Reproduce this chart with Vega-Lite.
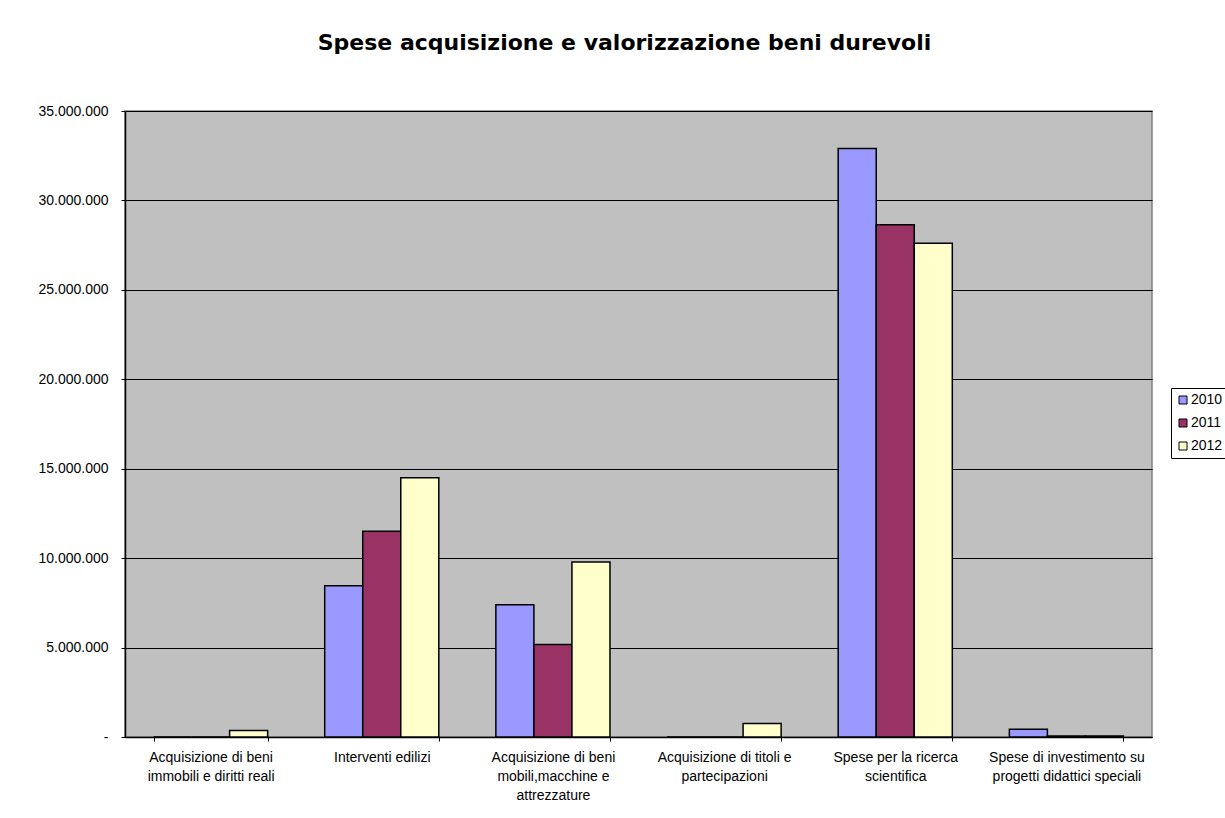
{
  "$schema": "https://vega.github.io/schema/vega-lite/v6.json",
  "width": 1027,
  "height": 626,
  "autosize": {"type": "none"},
  "padding": {"left": 125, "top": 111, "right": 73, "bottom": 81},
  "background": "white",
  "title": {
    "text": "Spese acquisizione e valorizzazione beni durevoli",
    "font": "DejaVu Sans",
    "fontSize": 22,
    "fontWeight": "bold",
    "color": "black",
    "anchor": "middle",
    "dx": -14,
    "offset": 49
  },
  "data": {
    "values": [
      {"categoria": "Acquisizione di beni immobili e diritti reali", "anno": "2010", "importo": 0},
      {"categoria": "Acquisizione di beni immobili e diritti reali", "anno": "2011", "importo": 0},
      {"categoria": "Acquisizione di beni immobili e diritti reali", "anno": "2012", "importo": 370000},
      {"categoria": "Interventi edilizi", "anno": "2010", "importo": 8450000},
      {"categoria": "Interventi edilizi", "anno": "2011", "importo": 11510000},
      {"categoria": "Interventi edilizi", "anno": "2012", "importo": 14500000},
      {"categoria": "Acquisizione di beni mobili,macchine e attrezzature", "anno": "2010", "importo": 7390000},
      {"categoria": "Acquisizione di beni mobili,macchine e attrezzature", "anno": "2011", "importo": 5170000},
      {"categoria": "Acquisizione di beni mobili,macchine e attrezzature", "anno": "2012", "importo": 9790000},
      {"categoria": "Acquisizione di titoli e partecipazioni", "anno": "2010", "importo": 0},
      {"categoria": "Acquisizione di titoli e partecipazioni", "anno": "2011", "importo": 0},
      {"categoria": "Acquisizione di titoli e partecipazioni", "anno": "2012", "importo": 750000},
      {"categoria": "Spese per la ricerca scientifica", "anno": "2010", "importo": 32900000},
      {"categoria": "Spese per la ricerca scientifica", "anno": "2011", "importo": 28640000},
      {"categoria": "Spese per la ricerca scientifica", "anno": "2012", "importo": 27600000},
      {"categoria": "Spese di investimento su progetti didattici speciali", "anno": "2010", "importo": 430000},
      {"categoria": "Spese di investimento su progetti didattici speciali", "anno": "2011", "importo": 60000},
      {"categoria": "Spese di investimento su progetti didattici speciali", "anno": "2012", "importo": 50000}
    ]
  },
  "mark": {"type": "bar", "stroke": "black", "strokeWidth": 1.5},
  "encoding": {
    "x": {
      "field": "categoria",
      "type": "nominal",
      "sort": null,
      "title": null,
      "scale": {"paddingInner": 0.3333, "paddingOuter": 0.1667},
      "axis": {
        "labelAngle": 0,
        "labelFont": "Liberation Sans",
        "labelFontSize": 14,
        "labelColor": "black",
        "labelLineHeight": 19,
        "labelPadding": 9,
        "labelLimit": 220,
        "labelBaseline": "top",
        "domainColor": "black",
        "domainWidth": 1.5,
        "tickColor": "black",
        "tickSize": 4,
        "tickBand": "extent",
        "labelExpr": "datum.label == 'Acquisizione di beni immobili e diritti reali' ? ['Acquisizione di beni', 'immobili e diritti reali'] : datum.label == 'Acquisizione di beni mobili,macchine e attrezzature' ? ['Acquisizione di beni', 'mobili,macchine e', 'attrezzature'] : datum.label == 'Acquisizione di titoli e partecipazioni' ? ['Acquisizione di titoli e', 'partecipazioni'] : datum.label == 'Spese per la ricerca scientifica' ? ['Spese per la ricerca', 'scientifica'] : datum.label == 'Spese di investimento su progetti didattici speciali' ? ['Spese di investimento su', 'progetti didattici speciali'] : datum.label"
      }
    },
    "xOffset": {
      "field": "anno",
      "type": "nominal",
      "scale": {"paddingInner": 0, "paddingOuter": 0}
    },
    "y": {
      "field": "importo",
      "type": "quantitative",
      "title": null,
      "scale": {"domain": [0, 35000000], "nice": false},
      "axis": {
        "values": [0, 5000000, 10000000, 15000000, 20000000, 25000000, 30000000, 35000000],
        "labelFont": "Liberation Sans",
        "labelFontSize": 14,
        "labelColor": "black",
        "labelPadding": 13,
        "labelExpr": "datum.value == 0 ? '-' : replace(replace(format(datum.value, ','), ',', '.'), ',', '.')",
        "domainColor": "black",
        "domainWidth": 1.5,
        "tickColor": "black",
        "tickSize": 4,
        "grid": true,
        "gridColor": "black",
        "gridWidth": 1
      }
    },
    "color": {
      "field": "anno",
      "type": "nominal",
      "title": null,
      "scale": {"domain": ["2010", "2011", "2012"], "range": ["#9999FF", "#993366", "#FFFFCC"]},
      "legend": {
        "orient": "none",
        "legendX": 1046,
        "legendY": 277,
        "direction": "vertical",
        "symbolType": "square",
        "symbolSize": 64,
        "symbolStrokeColor": "black",
        "symbolStrokeWidth": 1,
        "labelFont": "Liberation Sans",
        "labelFontSize": 14,
        "labelColor": "black",
        "labelOffset": 1,
        "rowPadding": 9,
        "padding": 5,
        "strokeColor": "black",
        "fillColor": "white"
      }
    }
  },
  "config": {
    "view": {"fill": "#C0C0C0", "stroke": "#808080", "strokeWidth": 1.5}
  }
}
